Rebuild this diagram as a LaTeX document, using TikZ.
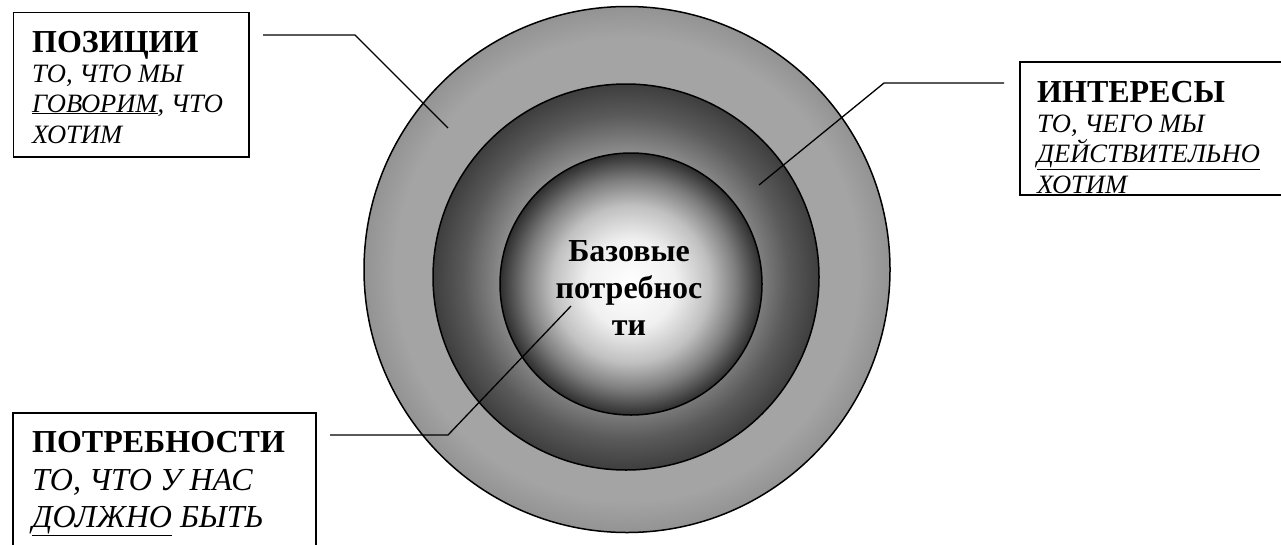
\documentclass[tikz,border=0pt]{standalone}
\usepackage{fontspec}
\setmainfont{Liberation Serif}
\definecolor{oc0}{HTML}{B0B0B0}
\definecolor{oc1}{HTML}{A4A4A4}
\definecolor{oc2}{HTML}{939393}
\definecolor{mc0}{HTML}{D0D0D0}
\definecolor{mc1}{HTML}{8E8E8E}
\definecolor{mc2}{HTML}{5A5A5A}
\definecolor{mc3}{HTML}{3E3E3E}
\definecolor{ic0}{HTML}{FFFFFF}
\definecolor{ic1}{HTML}{F0F0F0}
\definecolor{ic2}{HTML}{C0C0C0}
\definecolor{ic3}{HTML}{7E7E7E}
\definecolor{ic4}{HTML}{2E2E2E}
\pgfdeclareradialshading{outerS}{\pgfpoint{0bp}{0bp}}{color(0bp)=(oc0); color(18bp)=(oc1); color(22bp)=(oc1); color(25bp)=(oc2); color(50bp)=(oc2)}
\pgfdeclareradialshading{middleS}{\pgfpoint{0bp}{0bp}}{color(0bp)=(mc0); color(16bp)=(mc1); color(21bp)=(mc2); color(25bp)=(mc3); color(50bp)=(mc3)}
\pgfdeclareradialshading{innerS}{\pgfpoint{0bp}{0bp}}{color(0bp)=(ic0); color(8.5bp)=(ic1); color(15bp)=(ic2); color(20bp)=(ic3); color(25bp)=(ic4); color(50bp)=(ic4)}
\tikzset{
  ring/.style={draw=black, line width=1.5pt},
  labelbox/.style={draw=black, line width=1.5pt, fill=white, inner sep=0pt, rectangle},
  conn/.style={draw=black, line width=1.3pt},
  ttl/.style={anchor=base west, inner sep=0pt, font=\fontsize{32}{38}\selectfont\bfseries},
  sub/.style={anchor=base west, inner sep=0pt, font=\fontsize{26.5}{31}\selectfont\itshape},
  subbig/.style={anchor=base west, inner sep=0pt, font=\fontsize{32}{38}\selectfont\itshape},
  ctr/.style={anchor=base, inner sep=0pt, font=\fontsize{32}{38}\selectfont\bfseries}
}
\begin{document}
\begin{tikzpicture}[x=1pt,y=-1pt]
\useasboundingbox (0,0) rectangle (1281,544);
\fill[white] (0,0) rectangle (1281,544);
% circles
\shade[shading=outerS, ring] (627,269.5) circle (263);
\shade[shading=middleS, ring] (626,277) circle (193);
\shade[shading=innerS, ring] (631,284) circle (131);
% centre text
\node[ctr] (c1) at (629,261) {Базовые};
\node[ctr] (c2) at (629,298) {потребнос};
\node[ctr] (c3) at (629,335) {ти};
% box 1
\node[labelbox, minimum width=235.5pt, minimum height=144.5pt, anchor=north west] (pos) at (12.5,11.5) {};
\node[ttl] (pos1) at (32,52) {ПОЗИЦИИ};
\node[sub] (pos2) at (32,82) {ТО, ЧТО МЫ};
\node[sub] (pos3) at (32,112) {\underline{ГОВОРИМ}, ЧТО};
\node[sub] (pos4) at (32,143) {ХОТИМ};
% box 2
\node[labelbox, minimum width=263pt, minimum height=133pt, anchor=north west] (int) at (1019,61) {};
\node[ttl] (int1) at (1037,102) {ИНТЕРЕСЫ};
\node[sub] (int2) at (1037,132) {ТО, ЧЕГО МЫ};
\node[sub] (int3) at (1037,162) {\underline{ДЕЙСТВИТЕЛЬНО}};
\begin{scope}
\clip (1019,61) rectangle (1282,193.5);
\node[sub] (int4) at (1037,193) {ХОТИМ};
\end{scope}
% box 3
\node[labelbox, minimum width=303pt, minimum height=140pt, anchor=north west] (need) at (12,412) {};
\node[ttl] (need1) at (32,452) {ПОТРЕБНОСТИ};
\node[subbig] (need2) at (32,490) {ТО, ЧТО У НАС};
\node[subbig] (need3) at (32,527) {\underline{ДОЛЖНО} БЫТЬ};
% connectors
\coordinate (a0) at (263,35);
\coordinate (a1) at (355,35);
\coordinate (a2) at (448,128);
\draw[conn] (a0) -- (a1) -- (a2);
\coordinate (b0) at (1004,83);
\coordinate (b1) at (884,83);
\coordinate (b2) at (759,185);
\draw[conn] (b0) -- (b1) -- (b2);
\coordinate (d0) at (330,435);
\coordinate (d1) at (448,435);
\coordinate (d2) at (571,306);
\draw[conn] (d0) -- (d1) -- (d2);
\end{tikzpicture}
\end{document}
